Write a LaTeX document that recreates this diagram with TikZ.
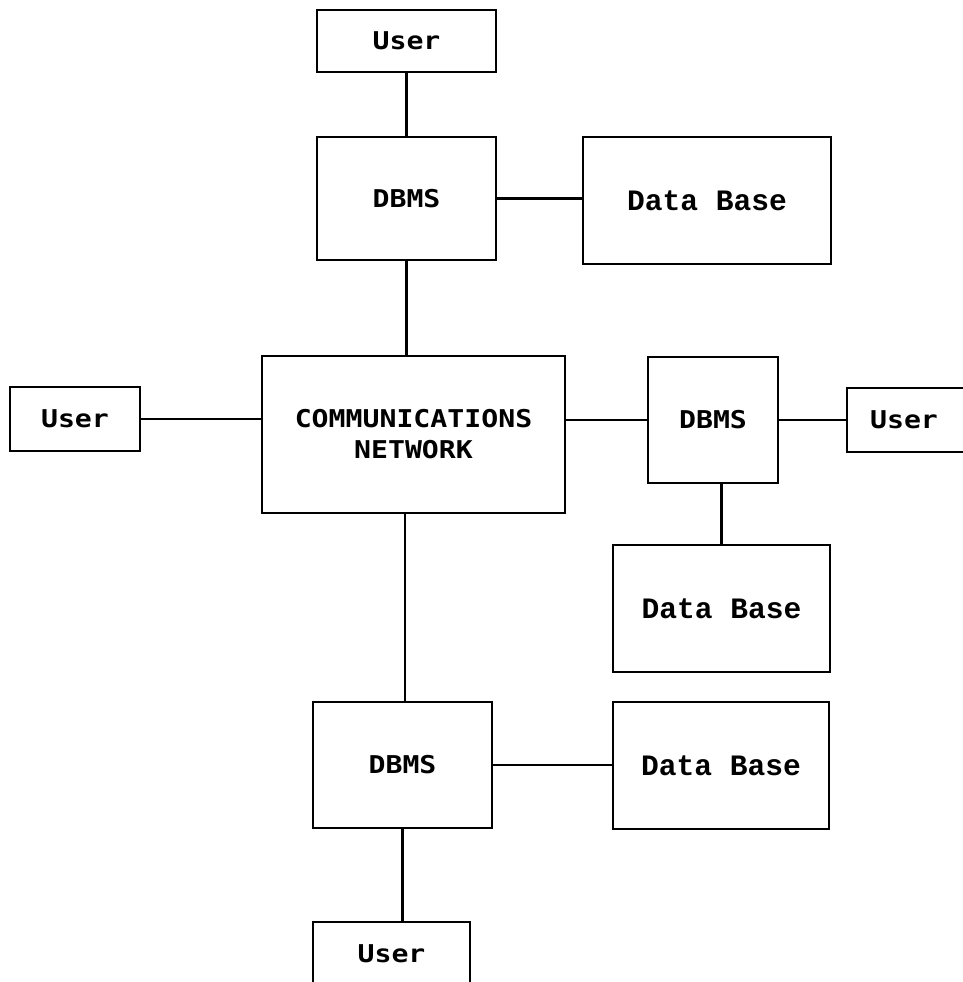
\documentclass[tikz,border=0pt]{standalone}
\usepackage{fontspec}
\newfontfamily\termfont[FakeStretch=1.15]{DejaVu Sans Mono}
\newfontfamily\dbfont{Liberation Mono}
\begin{document}
\begin{tikzpicture}[x=1bp,y=-1bp,
  box/.style={draw=black, line width=2.8bp, rectangle, inner sep=0pt, align=center,
    font=\termfont\bfseries\fontsize{24.5bp}{31bp}\selectfont},
  dbbox/.style={box, font=\dbfont\bfseries\fontsize{29.6bp}{34bp}\selectfont},
  link/.style={draw=black, line width=2.4bp}]
\clip (0,0) rectangle (963,982);
\fill[white] (0,0) rectangle (963,982);

% boxes: centre, width, height in pixel units
\node[box, minimum width=179bp, minimum height=62bp]  (userT) at (406.5,41)   {User};
\node[box, minimum width=179bp, minimum height=123bp] (dbmsT) at (406.5,198.5) {DBMS};
\node[dbbox, minimum width=248bp, minimum height=127bp] (dbT) at (707,200.5) {Data Base};
\node[box, minimum width=303bp, minimum height=157bp] (comm) at (413.5,434.5) {COMMUNICATIONS\\NETWORK};
\node[box, minimum width=130bp, minimum height=64bp]  (userL) at (75,419)   {User};
\node[box, minimum width=130bp, minimum height=126bp] (dbmsR) at (713,420)  {DBMS};
\node[box, minimum width=128bp, minimum height=64bp]  (userR) at (911,420)  {\hspace*{-14bp}User};
\node[dbbox, minimum width=217bp, minimum height=127bp] (dbM) at (721.5,608.5) {Data Base};
\node[box, minimum width=179bp, minimum height=126bp] (dbmsB) at (402.5,765) {DBMS};
\node[dbbox, minimum width=216bp, minimum height=127bp] (dbB) at (721,765.5) {Data Base};
\node[box, minimum width=157bp, minimum height=64bp]  (userB) at (391.5,954) {User};

% connectors
\draw[link] (userT.south) -- (dbmsT.north);
\draw[link] (dbmsT.east) -- (dbmsT.east -| dbT.west);
\draw[link] (dbmsT.south) -- (dbmsT.south |- comm.north);
\draw[link] (userL.east) -- (userL.east -| comm.west);
\draw[link] (comm.east |- dbmsR.west) -- (dbmsR.west);
\draw[link] (dbmsR.east) -- (userR.west);
\draw[link] (dbM.north |- dbmsR.south) -- (dbM.north);
\draw[link] ([xshift=2.5bp]dbmsB.north |- comm.south) -- ([xshift=2.5bp]dbmsB.north);
\draw[link] (dbmsB.east) -- (dbmsB.east -| dbB.west);
\draw[link] (dbmsB.south) -- (dbmsB.south |- userB.north);
\end{tikzpicture}
\end{document}
